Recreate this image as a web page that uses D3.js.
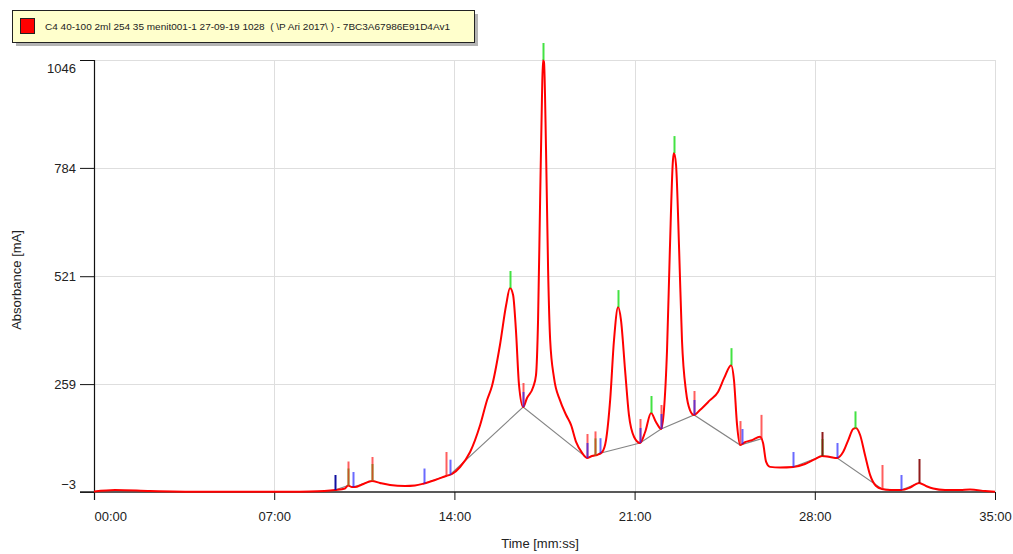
<!DOCTYPE html>
<html>
<head>
<meta charset="utf-8">
<script src="https://cdn.jsdelivr.net/npm/d3@7"></script>
<style>
  body { margin: 0; background: #fff; }
  svg { display: block; }
  text { font-family: "Liberation Sans", Arial, sans-serif; fill: #222; }
</style>
</head>
<body>
<svg id="chart" width="1013" height="554"></svg>
<script>
// Chromatogram trace: retention time (min) and absorbance (mA)
const traceTime = [
  0, 0.82, 2.18, 4.12, 7.61, 8.39, 9.36, 9.75, 9.87, 10.02, 10.14, 10.41, 10.80, 11.11, 11.50,
  12.08, 12.47, 12.82, 13.25, 13.68, 13.91, 14.22, 14.61, 15.00, 15.27, 15.46, 15.77, 16.01,
  16.16, 16.28, 16.39, 16.51, 16.67, 16.82, 17.06, 17.17, 17.25, 17.33, 17.40, 17.44, 17.48,
  17.56, 17.64, 17.72, 17.87, 18.10, 18.34, 18.53, 18.73, 18.96, 19.15, 19.35, 19.54, 19.74,
  19.89, 20.05, 20.20, 20.36, 20.47, 20.63, 20.78, 20.98, 21.21, 21.41, 21.64, 21.83, 22.03,
  22.14, 22.26, 22.37, 22.49, 22.53, 22.61, 22.73, 22.84, 23.00, 23.15, 23.31, 23.54, 23.93,
  24.24, 24.48, 24.75, 24.86, 24.98, 25.10, 25.29, 25.56, 25.87, 25.99, 26.11, 26.26, 26.65,
  27.16, 27.62, 28.01, 28.28, 28.59, 28.87, 29.10, 29.30, 29.49, 29.60, 29.76, 29.95, 30.15,
  30.38, 30.61, 30.92, 31.35, 31.70, 32.05, 32.32, 32.60, 33.06, 33.64, 34.03, 34.62, 35.00
];
const traceValue = [
  -1.8, 1.9, -0.6, -2.5, -2.5, -1.8, 1.9, 5.5, 12.8, 9.1, 9.1, 15.2, 23.7, 18.9, 14,
  11.6, 12.8, 17.6, 26.1, 35.9, 40.7, 57.7, 94.1, 159.7, 220.4, 254.4, 354, 451,
  492.4, 475.4, 390.4, 256.8, 203.4, 225.3, 252, 281, 415, 706, 949, 1046, 1041,
  827, 536, 366, 274, 220, 184, 160, 118, 92, 79.6, 84.4, 86.9, 94.1,
  123, 220, 366, 446, 415, 293, 184, 130.6, 116, 142.7, 188.8, 167, 150,
  196, 342, 585, 803, 820, 791, 585, 366, 240, 196, 184, 196, 220,
  240, 274, 305, 269, 160, 111, 118, 123, 131, 116, 70, 58, 56.5,
  57.7, 65, 77, 84.4, 82, 79.6, 94, 123, 150, 152.4, 135.4, 87, 38,
  11.6, 4.3, 1.9, 1.9, 7.9, 18.9, 11.6, 5.5, 1.9, 1.9, 3, -0.6, -2.5
];

// Axis ticks
const yTicks = [-3, 259, 521, 784, 1046];
const xTicks = [0, 7, 14, 21, 28, 35];

// Integration markers (retention times, min)
const apexMarks = [9.87, 10.80, 16.16, 17.44, 19.46, 20.36, 21.64, 22.53, 24.75, 28.28, 29.56];
const endMarks = [9.87, 10.80, 13.68, 16.67, 19.15, 19.46, 21.21, 22.03, 23.31, 25.10, 25.91, 30.61];
const darkEndMarks = [28.28, 32.05];
const startMarks = [10.06, 12.82, 13.83, 16.67, 19.15, 19.66, 21.21, 22.03, 23.31, 25.17, 27.16, 28.87, 31.35];
const darkStartMarks = [9.36];

// Integration baselines, as runs of boundary times
const baselineRuns = [
  [9.36, 9.87],
  [10.06, 10.80],
  [12.82, 13.68, 13.83, 16.67, 19.15, 19.46, 19.66, 21.21, 22.03, 23.31, 25.10, 25.91],
  [27.16, 28.28, 28.87, 30.61, 31.35, 32.05]
];

const legendLabel = "C4 40-100 2ml 254 35 menit001-1 27-09-19 1028  ( \\P Ari 2017\\ ) - 7BC3A67986E91D4Av1";

const svg = d3.select("#chart");
const margin = { left: 94, right: 18, top: 60, bottom: 62 };
const W = 1013, H = 554;

const x = d3.scaleLinear().domain([0, 35]).range([margin.left, W - margin.right]);
const y = d3.scaleLinear().domain([-3, 1046]).range([H - margin.bottom, margin.top]);

const trace = traceTime.map((t, i) => ({ t, v: traceValue[i] }));
const bis = d3.bisector(d => d.t).left;
function valueAt(t) {
  const i = Math.max(1, Math.min(trace.length - 1, bis(trace, t)));
  const a = trace[i - 1], b = trace[i];
  const k = (t - a.t) / (b.t - a.t);
  return a.v + (b.v - a.v) * Math.max(0, Math.min(1, k));
}
const fmt = m => String(m).padStart(2, "0") + ":00";

// Grid
const grid = svg.append("g").attr("stroke", "#dedede").attr("stroke-width", 1);
grid.selectAll("line.v").data(xTicks.slice(1)).join("line")
  .attr("x1", d => Math.round(x(d)) + 0.5).attr("x2", d => Math.round(x(d)) + 0.5)
  .attr("y1", y(1046)).attr("y2", y(-3));
grid.selectAll("line.h").data(yTicks.slice(1)).join("line")
  .attr("x1", x(0)).attr("x2", x(35))
  .attr("y1", d => Math.round(y(d)) + 0.5).attr("y2", d => Math.round(y(d)) + 0.5);

// Y axis
const yAxis = svg.append("g").attr("transform", `translate(${x(0)},0)`)
  .call(d3.axisLeft(y).tickValues(yTicks).tickSize(14).tickPadding(4).tickFormat(d3.format("d")));
yAxis.select(".domain").attr("stroke", "#111").attr("stroke-width", 1.2)
  .attr("d", `M0.5,${y(1046)}V${y(-3) + 8}`);
yAxis.selectAll(".tick line").attr("stroke", "#111");
yAxis.selectAll(".tick text").attr("font-size", 13).attr("fill", "#222")
  .attr("font-family", "Liberation Sans, Arial, sans-serif")
  .attr("dy", d => d === 1046 ? "0.95em" : d === -3 ? "-0.3em" : "0.32em");

// X axis
const xAxis = svg.append("g").attr("transform", `translate(0,${y(-3)})`)
  .call(d3.axisBottom(x).tickValues(xTicks).tickSize(8).tickPadding(12).tickFormat(fmt));
xAxis.select(".domain").attr("stroke", "#222").attr("stroke-width", 1.6)
  .attr("d", `M${x(0) - 14},0H${x(35)}`);
xAxis.selectAll(".tick line").attr("stroke", "#111");
xAxis.selectAll(".tick text").attr("font-size", 13).attr("fill", "#222")
  .attr("font-family", "Liberation Sans, Arial, sans-serif")
  .attr("text-anchor", d => d === 0 ? "start" : "middle");

// Axis titles
svg.append("text").attr("x", 540).attr("y", 548).attr("text-anchor", "middle")
  .attr("font-size", 13).text("Time [mm:ss]");
svg.append("text").attr("transform", `translate(21,${(y(-3) + y(1046)) / 2 + 4}) rotate(-90)`)
  .attr("text-anchor", "middle").attr("font-size", 13).text("Absorbance [mA]");

// Baselines
const baseLine = d3.line().x(t => x(t)).y(t => y(valueAt(t)));
svg.append("g").selectAll("path").data(baselineRuns).join("path")
  .attr("d", baseLine).attr("fill", "none").attr("stroke", "#858585").attr("stroke-width", 1.1);

// Trace
const line = d3.line().x(d => x(d.t)).y(d => y(d.v)).curve(d3.curveMonotoneX);
svg.append("path").datum(trace).attr("d", line)
  .attr("fill", "none").attr("stroke", "#ff0000").attr("stroke-width", 2)
  .attr("stroke-linejoin", "round");

// Markers
function marks(times, color, len, opacity) {
  svg.append("g").selectAll("line").data(times).join("line")
    .attr("x1", t => Math.round(x(t)) + 0.5).attr("x2", t => Math.round(x(t)) + 0.5)
    .attr("y1", t => y(valueAt(t))).attr("y2", t => y(valueAt(t)) - len)
    .attr("stroke", color).attr("stroke-width", 2).attr("stroke-opacity", opacity);
}
marks(apexMarks, "#22dd22", 17, 0.85);
marks(endMarks, "#ff1a1a", 24, 0.7);
marks(darkEndMarks, "#8a1010", 24, 0.95);
marks(startMarks, "#1a1aff", 15, 0.65);
marks(darkStartMarks, "#1010a0", 15, 1);

// Legend
const lg = svg.append("g");
lg.append("rect").attr("x", 16).attr("y", 14).attr("width", 462).attr("height", 32).attr("fill", "#b4b4b4");
lg.append("rect").attr("x", 12.5).attr("y", 10.5).attr("width", 462).attr("height", 32)
  .attr("fill", "#ffffcc").attr("stroke", "#222").attr("stroke-width", 1);
lg.append("rect").attr("x", 20.5).attr("y", 18.5).attr("width", 14).attr("height", 15)
  .attr("fill", "#ff0000").attr("stroke", "#222").attr("stroke-width", 1);
lg.append("text").attr("x", 45).attr("y", 30).attr("font-size", 9.5)
  .attr("font-family", "DejaVu Sans, Verdana, sans-serif")
  .attr("textLength", 405).attr("lengthAdjust", "spacingAndGlyphs")
  .style("white-space", "pre").text(legendLabel);
</script>
</body>
</html>
